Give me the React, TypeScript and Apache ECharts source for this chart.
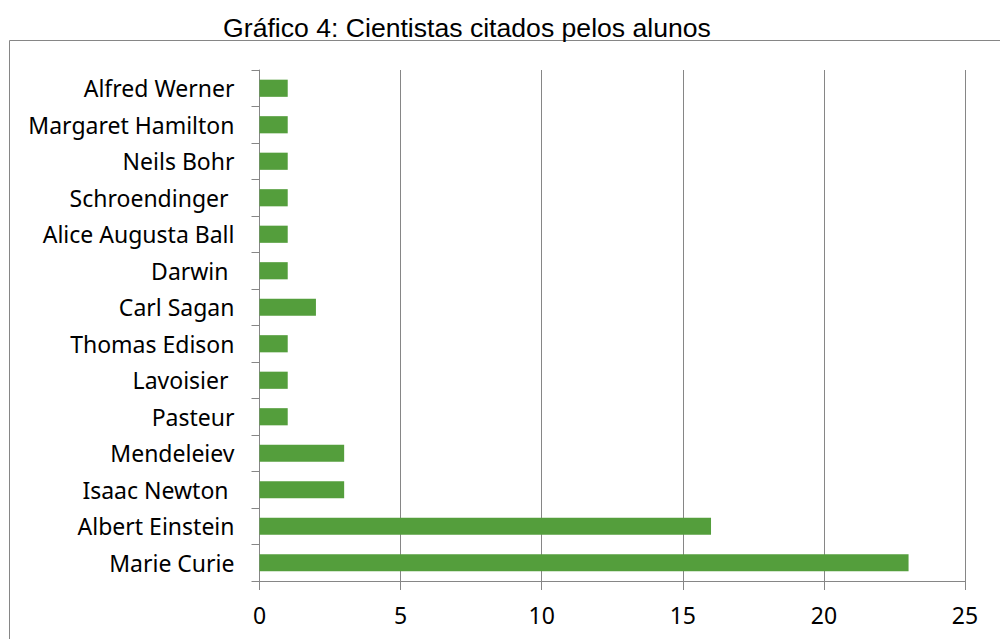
import React, { useEffect, useRef } from "react";
import * as echarts from "echarts";

const TITLE = "Gráfico 4: Cientistas citados pelos alunos";
const categories = [
  "Alfred Werner",
  "Margaret Hamilton",
  "Neils Bohr",
  "Schroendinger ",
  "Alice Augusta Ball",
  "Darwin ",
  "Carl Sagan",
  "Thomas Edison",
  "Lavoisier ",
  "Pasteur",
  "Mendeleiev",
  "Isaac Newton ",
  "Albert Einstein",
  "Marie Curie",
];
const values = [1, 1, 1, 1, 1, 1, 2, 1, 1, 1, 3, 3, 16, 23];
const xTicks = { min: 0, max: 25, interval: 5 };

export default function App() {
  const ref = useRef<HTMLDivElement>(null);
  useEffect(() => {
    if (!ref.current) return;
    const chart = echarts.init(ref.current, undefined, { renderer: "svg" });
    const grey = "#868686";
    chart.setOption({
      animation: false,
      backgroundColor: "#ffffff",
      title: {
        text: TITLE,
        left: 462,
        top: 9,
        textAlign: "center",
        textStyle: {
          fontFamily: "Liberation Sans, Arial, sans-serif",
          fontSize: 26.6,
          fontWeight: "normal",
          color: "#000000",
        },
      },
      graphic: [
        {
          type: "rect",
          shape: { x: 9.5, y: 40.5, width: 1010, height: 620 },
          style: { fill: "none", stroke: grey, lineWidth: 1 },
          silent: true,
          z: -1,
        },
      ],
      grid: { left: 259.5, right: 35, top: 70, bottom: 58, containLabel: false },
      xAxis: {
        type: "value",
        min: xTicks.min,
        max: xTicks.max,
        interval: xTicks.interval,
        axisLine: { show: true, lineStyle: { color: grey, width: 1 } },
        axisTick: { show: true, length: 9, lineStyle: { color: grey } },
        splitLine: { show: true, lineStyle: { color: grey, width: 1 } },
        axisLabel: {
          margin: 22,
          fontFamily: "Noto Sans, Open Sans, sans-serif",
          fontSize: 23,
          color: "#000000",
        },
      },
      yAxis: {
        type: "category",
        data: categories,
        inverse: true,
        axisLine: { show: true, lineStyle: { color: grey, width: 1 } },
        axisTick: { show: true, length: 8, lineStyle: { color: grey } },
        axisLabel: {
          margin: 25,
          fontFamily: "Noto Sans, Open Sans, sans-serif",
          fontSize: 23,
          color: "#000000",
        },
      },
      series: [
        {
          type: "bar",
          data: values,
          barWidth: "47%",
          itemStyle: { color: "#549e3c" },
        },
      ],
    });
    return () => chart.dispose();
  }, []);
  return (
    <div
      ref={ref}
      style={{ position: "fixed", left: 0, top: 0, width: 1000, height: 639 }}
    />
  );
}
